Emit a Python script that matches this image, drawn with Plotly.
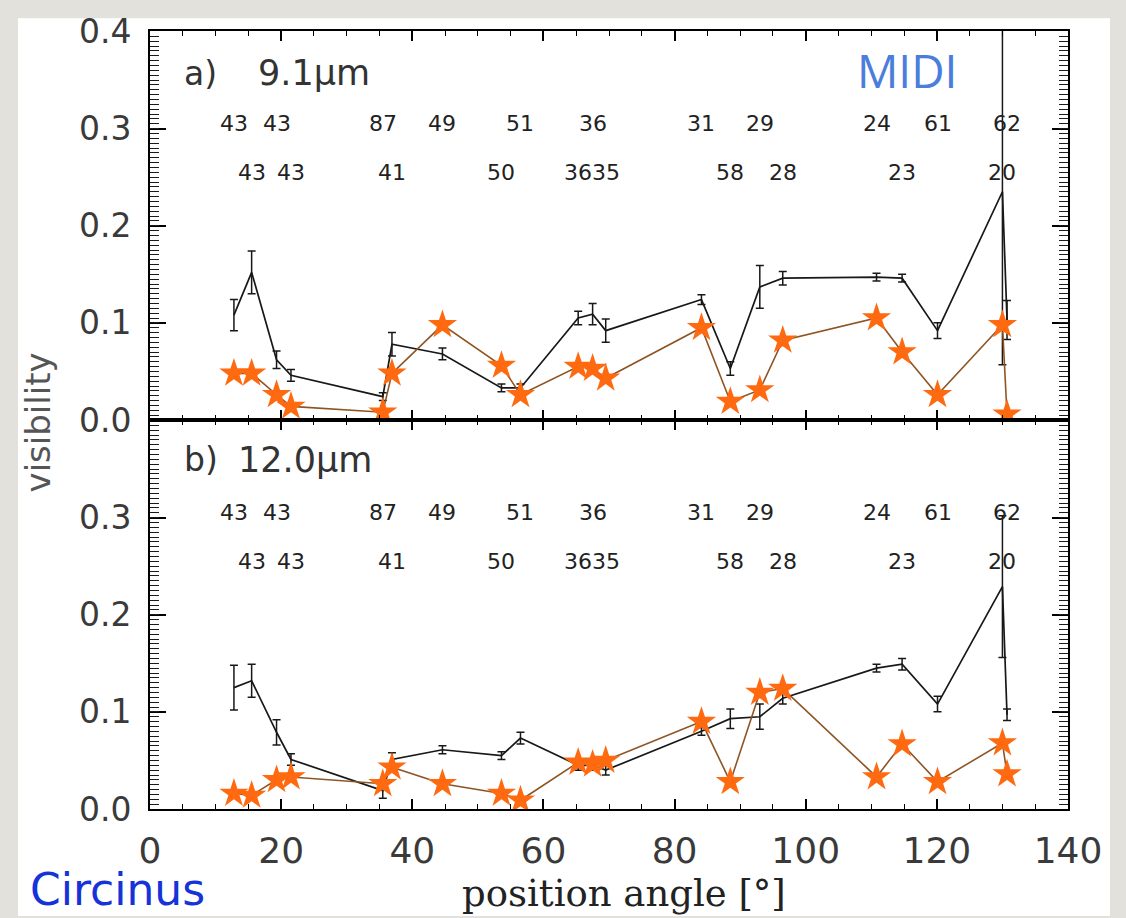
import plotly.graph_objects as go
from plotly.subplots import make_subplots

# ---------------- data ----------------
position_angle = [12.8, 15.5, 19.3, 21.5, 35.5, 36.9, 44.6, 53.6, 56.5, 65.3, 67.5,
                  69.5, 84.1, 88.5, 93.0, 96.5, 110.8, 114.7, 120.1, 130.0, 130.7]
baseline_labels = ["43", "43", "43", "43", "87", "41", "49", "50", "51", "36", "36",
                   "35", "31", "58", "29", "28", "24", "23", "61", "20", "62"]

vis_9um = [0.108, 0.152, 0.062, 0.046, 0.024, 0.078, 0.068, 0.033, 0.033, 0.105, 0.109,
           0.092, 0.124, 0.053, 0.137, 0.146, 0.147, 0.146, 0.092, 0.235, 0.103]
err_9um = [0.016, 0.022, 0.009, 0.006, 0.004, 0.012, 0.006, 0.004, 0.004, 0.007, 0.011,
           0.012, 0.005, 0.007, 0.022, 0.007, 0.004, 0.004, 0.008, 0.178, 0.020]
model_9um = [0.048, 0.048, 0.026, 0.014, 0.008, 0.048, 0.098, 0.056, 0.026, 0.055, 0.053,
             0.043, 0.095, 0.019, 0.031, 0.082, 0.105, 0.070, 0.026, 0.098, 0.006]

vis_12um = [0.125, 0.132, 0.079, 0.051, 0.019, 0.051, 0.061, 0.055, 0.073, 0.045, 0.045,
            0.040, 0.080, 0.093, 0.095, 0.114, 0.145, 0.149, 0.108, 0.229, 0.097]
err_12um = [0.023, 0.017, 0.013, 0.006, 0.008, 0.007, 0.004, 0.004, 0.006, 0.005, 0.005,
            0.005, 0.004, 0.010, 0.013, 0.006, 0.004, 0.006, 0.008, 0.073, 0.006]
model_12um = [0.016, 0.014, 0.030, 0.033, 0.026, 0.043, 0.026, 0.016, 0.009, 0.048, 0.046,
              0.050, 0.090, 0.028, 0.120, 0.124, 0.033, 0.067, 0.028, 0.068, 0.036]

label_rows = [0.305, 0.255]
panel_a_ylabels = [0.0, 0.1, 0.2, 0.3, 0.4]
panel_b_ylabels = [0.0, 0.1, 0.2, 0.3]
x_labels = [0, 20, 40, 60, 80, 100, 120, 140]

# tick positions (axis decoration): fine comb + longer ticks at labelled values
x_fine = [5 * i for i in range(29)]
y_fine = [round(0.005 * i, 4) for i in range(81)]


def tick_text(vals, labelled, fmt):
    return [fmt % v if any(abs(v - l) < 1e-9 for l in labelled) else "" for v in vals]


# ---------------- figure ----------------
fig = make_subplots(rows=2, cols=1, vertical_spacing=0)

BLACK = "#181818"
ORANGE = "#ff6a10"
BROWN = "#8e5524"

panels = [(vis_9um, err_9um, model_9um, 1), (vis_12um, err_12um, model_12um, 2)]
for vis, err, model, row in panels:
    fig.add_trace(go.Scatter(
        x=position_angle, y=vis, mode="lines",
        line=dict(color=BLACK, width=1.7),
        error_y=dict(type="data", array=err, visible=True, color=BLACK,
                     thickness=1.5, width=4),
        showlegend=False, hoverinfo="skip"), row=row, col=1)
    fig.add_trace(go.Scatter(
        x=position_angle, y=model, mode="lines+markers",
        line=dict(color=BROWN, width=1.6),
        marker=dict(symbol="star", size=22, color=ORANGE, line=dict(width=0)),
        showlegend=False, hoverinfo="skip"), row=row, col=1)

annotations = []
for axis_ref in ["", "2"]:
    for i, (xv, lab) in enumerate(zip(position_angle, baseline_labels)):
        annotations.append(dict(
            x=xv, y=label_rows[i % 2], xref="x" + axis_ref, yref="y" + axis_ref,
            text=lab, showarrow=False, xanchor="center", yanchor="middle",
            font=dict(family="DejaVu Sans", size=22, color="#222222")))

W, H = 1126, 918
L, R, T, B = 150, 58, 16, 109
pw, ph = W - L - R, H - T - B


def px(xp):
    return (xp - L) / pw


def py(yp):
    return (H - B - yp) / ph


def txt(text, x, y, size, color, family, xanchor="center", yanchor="middle", angle=0):
    annotations.append(dict(
        x=px(x), y=py(y), xref="paper", yref="paper", text=text, showarrow=False,
        xanchor=xanchor, yanchor=yanchor, textangle=angle,
        font=dict(family=family, size=size, color=color)))


txt("a)", 182, 59, 33, "#333333", "DejaVu Sans", xanchor="left")
txt("9.1\u03bcm", 256, 59, 35, "#333333", "DejaVu Sans", xanchor="left")
txt("b)", 182, 453, 33, "#333333", "DejaVu Sans", xanchor="left")
txt("12.0\u03bcm", 236, 453, 35, "#333333", "DejaVu Sans", xanchor="left")
txt("MIDI", 907, 56, 46, "#4a7ddc", "Open Sans")
txt("Circinus", 28, 919, 44, "#1533d8", "DejaVu Sans", xanchor="left", yanchor="bottom")
txt("visibility", 38, 415, 34, "#555555", "DejaVu Sans", angle=-90)
txt("position angle [\u00b0]", 624, 919, 37, "#222222", "DejaVu Serif", yanchor="bottom")

fig.update_layout(
    width=W, height=H,
    margin=dict(l=L, r=R, t=T, b=B),
    paper_bgcolor="#e3e1dc",
    plot_bgcolor="white",
    annotations=annotations,
    shapes=[dict(type="rect", xref="paper", yref="paper",
                 x0=px(18), x1=px(1110), y0=py(918), y1=py(3),
                 fillcolor="white", line=dict(width=0), layer="below")],
)

common_x = dict(range=[0, 140], tickmode="array", tickvals=x_fine,
                ticktext=tick_text(x_fine, x_labels, "%d"),
                ticks="inside", ticklen=5, tickwidth=1.3, tickcolor="black",
                showline=True, linecolor="black", linewidth=2, mirror="allticks",
                showgrid=False, zeroline=False,
                minor=dict(tickmode="array", tickvals=x_labels, ticks="inside",
                           ticklen=10, tickcolor="black", tickwidth=1.5, showgrid=False))
fig.update_xaxes(**common_x, showticklabels=False, row=1, col=1)
fig.update_xaxes(**common_x, showticklabels=True, ticklabelstandoff=9,
                 tickfont=dict(family="DejaVu Sans", size=36, color="#3a3a3a"),
                 row=2, col=1)

common_y = dict(range=[0, 0.4005], tickmode="array", tickvals=y_fine,
                ticks="inside", ticklen=9, tickwidth=1.3, tickcolor="#1a1a1a",
                showline=True, linecolor="black", linewidth=2, mirror="allticks",
                showgrid=False, zeroline=False,
                ticklabelstandoff=10, ticklabeloverflow="allow",
                tickfont=dict(family="DejaVu Sans", size=33, color="#3a3a3a"))
fig.update_yaxes(**common_y, ticktext=tick_text(y_fine, panel_a_ylabels, "%.1f"),
                 minor=dict(tickmode="array", tickvals=panel_a_ylabels, ticks="inside",
                            ticklen=16, tickcolor="black", tickwidth=1.5, showgrid=False),
                 row=1, col=1)
fig.update_yaxes(**common_y, ticktext=tick_text(y_fine, panel_b_ylabels, "%.1f"),
                 minor=dict(tickmode="array", tickvals=panel_a_ylabels, ticks="inside",
                            ticklen=16, tickcolor="black", tickwidth=1.5, showgrid=False),
                 row=2, col=1)

fig.write_html(
    "out.html",
    config={"displayModeBar": False},
    post_script="document.body.style.margin='0';document.body.style.padding='0';"
                "document.documentElement.style.overflow='hidden';")
